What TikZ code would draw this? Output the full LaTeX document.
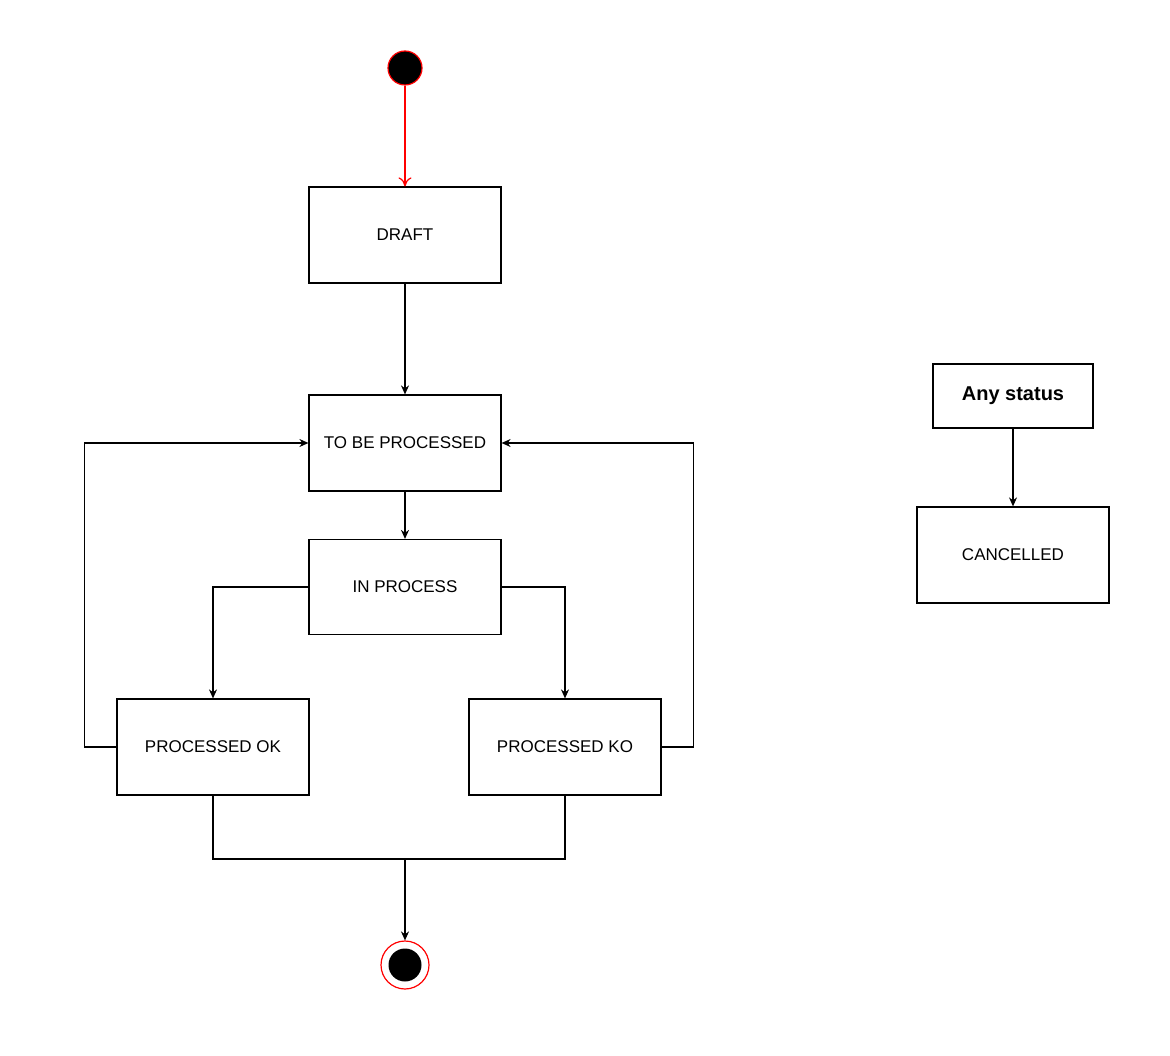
\documentclass[tikz,border=0pt]{standalone}
\usepackage{fontspec}
\setmainfont{Liberation Sans}
\usetikzlibrary{arrows.meta}
\begin{document}
\begin{tikzpicture}[x=1pt, y=-1pt,
    state/.style={draw, line width=1.2pt, minimum width=192pt, minimum height=96pt,
        inner sep=0pt, font=\fontsize{17}{20}\selectfont},
    flow/.style={-{Stealth[length=9pt, width=8pt]}, line width=1.2pt}]
\useasboundingbox (0,0) rectangle (1170,1056);

\node[circle, draw=red, fill=black, line width=1.2pt, minimum size=34pt, inner sep=0pt] (start) at (405,68) {};
\node[state] (draft) at (405,235) {DRAFT};
\node[state] (tbp) at (405,443) {TO BE PROCESSED};
\node[state, minimum height=95pt] (inproc) at (405,587) {IN PROCESS};
\node[state] (ok) at (213,747) {PROCESSED OK};
\node[state] (ko) at (565,747) {PROCESSED KO};
\node[circle, draw=red, line width=1.2pt, minimum size=48pt, inner sep=0pt] (stop) at (405,965) {};
\node[circle, fill=black, minimum size=33pt, inner sep=0pt] at (stop) {};

\node[state, minimum width=160pt, minimum height=64pt, font=\fontsize{20}{24}\selectfont\bfseries] (any) at (1013,396) {Any status};
\node[state] (cancel) at (1013,555) {CANCELLED};

\coordinate (join) at (405,859);

\draw[-{To[length=9pt, width=13pt]}, red, line width=1.2pt] (start) -- (draft);
\draw[flow] (draft) -- (tbp);
\draw[flow] (tbp) -- (inproc);
\draw[flow] (inproc.west) -| (ok.north);
\draw[flow] (inproc.east) -| (ko.north);
\draw[flow] (ok.west) -- ++(-32,0) |- (tbp.west);
\draw[flow] (ko.east) -- ++(32,0) |- (tbp.east);
\draw[line width=1.2pt] (ok.south) |- (join) -| (ko.south);
\draw[flow] (join) -- (stop);
\draw[flow] (any) -- (cancel);
\end{tikzpicture}
\end{document}
